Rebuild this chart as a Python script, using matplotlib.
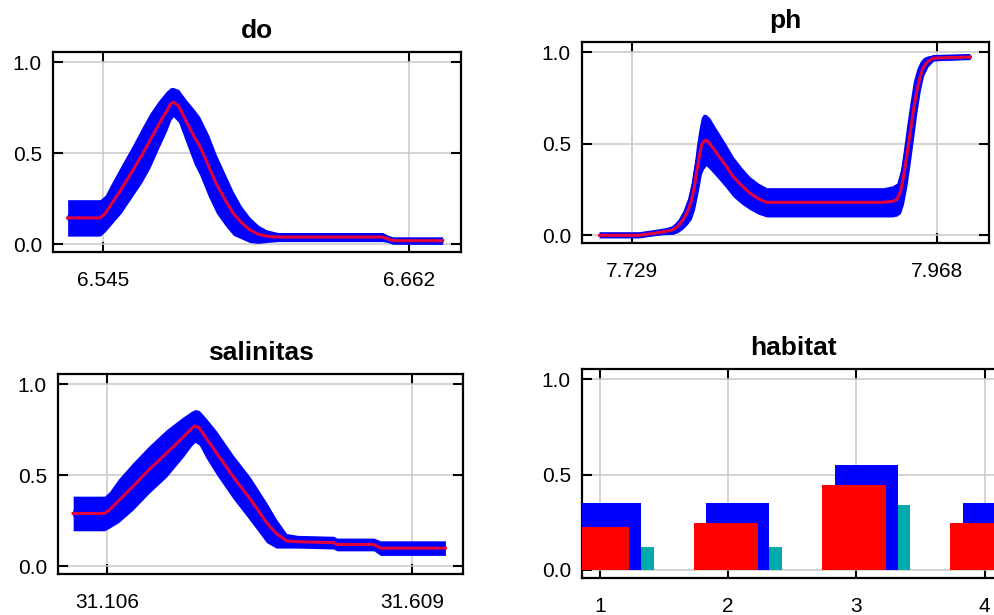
import matplotlib
matplotlib.use("Agg")
import matplotlib.pyplot as plt
import numpy as np

plt.rcParams['font.family'] = ['Liberation Sans', 'DejaVu Sans']

# do response (mean and std)
do_x = [6.5316, 6.5440, 6.5460, 6.5478, 6.5520, 6.5567, 6.5600, 6.5631, 6.5665, 6.5694,
        6.5710, 6.5720, 6.5740, 6.5771, 6.5800, 6.5821, 6.5855, 6.5885, 6.5920, 6.5949,
        6.5980, 6.6012, 6.6045, 6.6076, 6.6120, 6.6520, 6.6540, 6.6560, 6.6750]
do_mean = [0.145, 0.145, 0.17, 0.21, 0.30, 0.41, 0.49, 0.57, 0.66, 0.73,
           0.77, 0.78, 0.76, 0.67, 0.59, 0.54, 0.43, 0.33, 0.24, 0.17,
           0.12, 0.08, 0.055, 0.045, 0.04, 0.04, 0.03, 0.02, 0.02]
do_sd = [0.10, 0.10, 0.10, 0.11, 0.13, 0.14, 0.15, 0.15, 0.13, 0.11,
         0.09, 0.08, 0.09, 0.12, 0.15, 0.16, 0.17, 0.16, 0.14, 0.12,
         0.09, 0.07, 0.05, 0.035, 0.025, 0.025, 0.02, 0.02, 0.02]
do_ticks = [6.545, 6.662]

# ph response
ph_x = [7.7036, 7.7350, 7.7480, 7.7560, 7.7610, 7.7650, 7.7690, 7.7725, 7.7756, 7.7780,
        7.7795, 7.7815, 7.7834, 7.7850, 7.7870, 7.7900, 7.7952, 7.8020, 7.8083, 7.8150,
        7.8214, 7.8280, 7.8345, 7.9260, 7.9330, 7.9366, 7.9395, 7.9418, 7.9445, 7.9470,
        7.9495, 7.9523, 7.9550, 7.9575, 7.9610, 7.9654, 7.9942]
ph_mean = [0.0, 0.0, 0.013, 0.022, 0.03, 0.05, 0.085, 0.13, 0.19, 0.27,
           0.34, 0.42, 0.49, 0.51, 0.52, 0.50, 0.45, 0.385, 0.32, 0.27,
           0.23, 0.20, 0.18, 0.18, 0.185, 0.195, 0.24, 0.32, 0.44, 0.56,
           0.68, 0.79, 0.87, 0.92, 0.95, 0.967, 0.973]
ph_sd = [0.005, 0.005, 0.012, 0.018, 0.025, 0.035, 0.05, 0.07, 0.10, 0.13,
         0.15, 0.16, 0.155, 0.15, 0.14, 0.14, 0.13, 0.12, 0.11, 0.10,
         0.09, 0.085, 0.08, 0.08, 0.085, 0.09, 0.12, 0.15, 0.17, 0.17,
         0.16, 0.12, 0.08, 0.05, 0.03, 0.015, 0.01]
ph_ticks = [7.729, 7.968]

# salinitas response
sal_x = [31.050, 31.102, 31.110, 31.125, 31.149, 31.175, 31.204, 31.2316, 31.245, 31.251,
         31.258, 31.270, 31.287, 31.314, 31.342, 31.369, 31.385, 31.402, 31.420, 31.4795,
         31.485, 31.546, 31.557, 31.664]
sal_mean = [0.29, 0.29, 0.31, 0.36, 0.44, 0.53, 0.62, 0.71, 0.755, 0.77,
            0.76, 0.70, 0.62, 0.49, 0.37, 0.24, 0.18, 0.14, 0.135, 0.13,
            0.12, 0.12, 0.10, 0.10]
sal_sd = [0.095, 0.095, 0.10, 0.12, 0.13, 0.13, 0.13, 0.11, 0.095, 0.09,
          0.095, 0.11, 0.12, 0.12, 0.12, 0.11, 0.08, 0.04, 0.035, 0.035,
          0.035, 0.035, 0.04, 0.04]
sal_ticks = [31.106, 31.609]

# habitat (categorical)
hab_cat = [1, 2, 3, 4]
hab_mean = [0.228, 0.246, 0.444, 0.246]
hab_plus = [0.351, 0.351, 0.553, 0.351]
hab_minus = [0.123, 0.123, 0.339, 0.123]

W, H = 995, 615
fig = plt.figure(figsize=(W / 100, H / 100), dpi=100)


def box(l, t, r, b):
    return [l / W, (H - b) / H, (r - l) / W, (b - t) / H]


def style(ax, title):
    ax.set_ylim(-0.042, 1.055)
    ax.set_yticks([0.0, 0.5, 1.0])
    ax.set_yticklabels(['0.0', '0.5', '1.0'])
    ax.grid(True, color='#c8c8c8', linewidth=1.1)
    ax.set_axisbelow(True)
    for s in ax.spines.values():
        s.set_linewidth(1.6)
    ax.tick_params(axis='both', direction='in', length=7, width=1.5,
                   top=True, right=True, labelsize=15)
    ax.tick_params(axis='x', pad=14)
    ax.tick_params(axis='y', pad=8)
    ax.set_title(title, fontsize=19, fontweight='bold', pad=10)


def curve(ax, x, m, sd, ticks, fmt):
    x = np.array(x)
    m = np.array(m)
    sd = np.array(sd)
    ax.fill_between(x, m - sd, m + sd, color='blue', linewidth=0, zorder=2)
    ax.plot(x, m, color='blue', linewidth=4.5, solid_capstyle='butt',
            solid_joinstyle='round', zorder=3)
    ax.plot(x, m, color='#e4003a', linewidth=2.2, solid_joinstyle='round', zorder=4)
    ax.set_xticks(ticks)
    ax.set_xticklabels([fmt % t for t in ticks])


ax1 = fig.add_axes(box(53, 52, 461, 252))
curve(ax1, do_x, do_mean, do_sd, do_ticks, '%.3f')
ax1.set_xlim(6.526, 6.682)
style(ax1, 'do')

ax2 = fig.add_axes(box(582, 42, 989, 243))
curve(ax2, ph_x, ph_mean, ph_sd, ph_ticks, '%.3f')
ax2.set_xlim(7.6898, 8.0088)
style(ax2, 'ph')

ax3 = fig.add_axes(box(58, 374, 463, 574))
curve(ax3, sal_x, sal_mean, sal_sd, sal_ticks, '%.3f')
ax3.set_xlim(31.025, 31.693)
style(ax3, 'salinitas')

ax4 = fig.add_axes(box(582, 369, 1004, 578))
c = np.array(hab_cat, dtype=float)
ax4.bar(c + 0.32, hab_minus, width=0.10, align='edge', color='#00aaaa', zorder=2)
ax4.bar(c - 0.17, hab_plus, width=0.49, align='edge', color='blue', zorder=3)
ax4.bar(c - 0.27, hab_mean, width=0.50, align='edge', color='red', zorder=4)
ax4.set_xticks(hab_cat)
ax4.set_xticklabels([str(k) for k in hab_cat])
ax4.set_xlim(0.86, 4.15)
style(ax4, 'habitat')

fig.savefig('out.png', dpi=100)
